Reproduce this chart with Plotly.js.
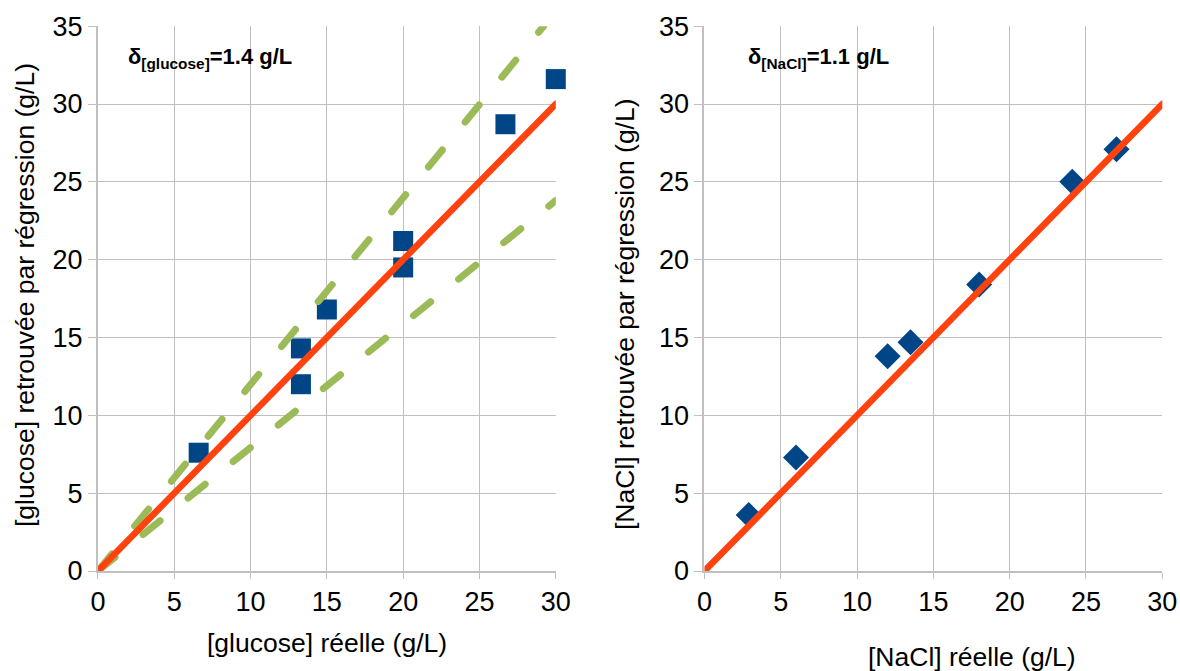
<!DOCTYPE html>
<html>
<head>
<meta charset="utf-8">
<script src="https://cdn.plot.ly/plotly-3.0.1.min.js"></script>
<style>
html,body{margin:0;padding:0;background:#fff;}
#chart{width:1180px;height:671px;}
.scatterlayer path.js-line{stroke-linecap:round !important;}
</style>
</head>
<body>
<div id="chart"></div>
<script>
// Left panel: glucose
const glucoseReal = [6.6, 13.3, 13.3, 15, 20, 20, 26.7, 30];
const glucoseFound = [7.6, 14.3, 12.0, 16.8, 21.2, 19.5, 28.7, 31.6];
const glucoseIdealX = [0, 30];
const glucoseIdealY = [0, 30];
const glucoseUpperX = [0, 29.2];
const glucoseUpperY = [0, 35];
const glucoseLowerX = [0, 30];
const glucoseLowerY = [0, 23.8];

// Right panel: NaCl
const naclReal = [2.9, 6.0, 12.0, 13.5, 18.0, 24.1, 27.0];
const naclFound = [3.6, 7.3, 13.8, 14.7, 18.4, 25.0, 27.1];
const naclIdealX = [0, 30];
const naclIdealY = [0, 30];

const xTickVals = [0, 5, 10, 15, 20, 25, 30];
const yTickVals = [0, 5, 10, 15, 20, 25, 30, 35];

const blue = '#004586';
const orange = '#ff420e';
const green = '#9bbb59';
const gridc = '#c0c0c0';
const tickFont = {family: 'Liberation Sans, Arial, sans-serif', size: 27, color: '#000'};

const traces = [
  {x: glucoseReal, y: glucoseFound, mode: 'markers', type: 'scatter', xaxis: 'x', yaxis: 'y',
   marker: {symbol: 'square', size: 20, color: blue}, cliponaxis: false},
  {x: glucoseUpperX, y: glucoseUpperY, mode: 'lines', xaxis: 'x', yaxis: 'y',
   line: {color: green, width: 7, dash: '22px,36px'}},
  {x: glucoseLowerX, y: glucoseLowerY, mode: 'lines', xaxis: 'x', yaxis: 'y',
   line: {color: green, width: 7, dash: '22px,36px'}},
  {x: glucoseIdealX, y: glucoseIdealY, mode: 'lines', xaxis: 'x', yaxis: 'y',
   line: {color: orange, width: 6.5}},
  {x: naclReal, y: naclFound, mode: 'markers', type: 'scatter', xaxis: 'x2', yaxis: 'y2',
   marker: {symbol: 'diamond', size: 20, color: blue}, cliponaxis: false},
  {x: naclIdealX, y: naclIdealY, mode: 'lines', xaxis: 'x2', yaxis: 'y2',
   line: {color: orange, width: 6.5}}
];

function xax(domain, anchor) {
  return {domain: domain, anchor: anchor, range: [0, 30], tickvals: xTickVals,
    showgrid: true, gridcolor: gridc, gridwidth: 1, zeroline: false,
    showline: true, linecolor: gridc, linewidth: 2, mirror: false,
    ticks: 'outside', ticklen: 6, tickcolor: gridc, tickfont: tickFont, fixedrange: true};
}
function yax(anchor) {
  return {domain: [0.149, 0.961], anchor: anchor, range: [0, 35], tickvals: yTickVals,
    showgrid: true, gridcolor: gridc, gridwidth: 1, zeroline: false,
    showline: true, linecolor: gridc, linewidth: 2,
    ticks: 'outside', ticklen: 8, tickcolor: gridc, tickfont: tickFont, fixedrange: true};
}

const titleFont = {family: 'Liberation Sans, Arial, sans-serif', size: 26.5, color: '#000'};
const annFont = {family: 'Liberation Sans, Arial, sans-serif', size: 22, color: '#000'};

const layout = {
  width: 1180, height: 671,
  margin: {l: 0, r: 0, t: 0, b: 0},
  paper_bgcolor: '#fff', plot_bgcolor: '#fff',
  showlegend: false,
  xaxis: xax([0.083, 0.471], 'y'),
  yaxis: yax('x'),
  xaxis2: xax([0.597, 0.985], 'y2'),
  yaxis2: yax('x2'),
  annotations: [
    {text: '<b>δ<sub>[glucose]</sub>=1.4 g/L</b>', xref: 'paper', yref: 'paper', x: 126/1180, y: 1 - 58/671,
     xanchor: 'left', yanchor: 'middle', showarrow: false, font: annFont},
    {text: '<b>δ<sub>[NaCl]</sub>=1.1 g/L</b>', xref: 'paper', yref: 'paper', x: 746/1180, y: 1 - 58/671,
     xanchor: 'left', yanchor: 'middle', showarrow: false, font: annFont},
    {text: '[glucose] réelle (g/L)', xref: 'paper', yref: 'paper', x: 327/1180, y: 1 - 643/671,
     xanchor: 'center', yanchor: 'middle', showarrow: false, font: titleFont},
    {text: '[NaCl] réelle (g/L)', xref: 'paper', yref: 'paper', x: 972/1180, y: 1 - 657/671,
     xanchor: 'center', yanchor: 'middle', showarrow: false, font: titleFont},
    {text: '[glucose] retrouvée par régression (g/L)', xref: 'paper', yref: 'paper', x: 25/1180, y: 1 - 295/671,
     xanchor: 'center', yanchor: 'middle', showarrow: false, textangle: -90, font: titleFont},
    {text: '[NaCl] retrouvée par régression (g/L)', xref: 'paper', yref: 'paper', x: 625/1180, y: 1 - 314/671,
     xanchor: 'center', yanchor: 'middle', showarrow: false, textangle: -90, font: titleFont}
  ]
};

Plotly.newPlot('chart', traces, layout, {staticPlot: true, displayModeBar: false}).then(function () {
  document.querySelectorAll('.scatterlayer path.js-line').forEach(function (p) {
    p.style.strokeLinecap = 'round';
  });
});
</script>
</body>
</html>
